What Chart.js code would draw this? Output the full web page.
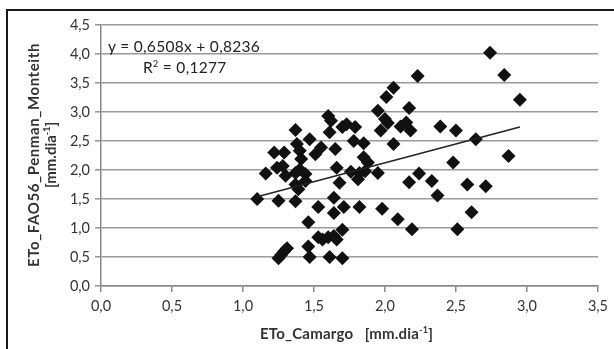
<!DOCTYPE html>
<html><head><meta charset="utf-8">
<script src="https://cdn.jsdelivr.net/npm/chart.js@4.4.0/dist/chart.umd.min.js"></script>
<style>
html,body{margin:0;padding:0;background:#fff;}
#wrap{position:relative;width:614px;height:349px;overflow:hidden;font-family:Lato,"Open Sans",sans-serif;color:#222;}
#frame{position:absolute;left:6px;top:9px;width:640px;height:400px;border:2.5px solid #1a1a1a;box-sizing:border-box;}
canvas{position:absolute;left:0;top:0;}
.t{position:absolute;white-space:nowrap;}
</style></head>
<body>
<div id="wrap">
<div id="frame"></div>
<canvas id="c" width="614" height="349"></canvas>
<div class="t" style="left:108px;top:37px;font-size:15.5px;letter-spacing:0.3px">y = 0,6508x + 0,8236</div>
<div class="t" style="left:143px;top:58px;font-size:15.5px;letter-spacing:0.3px">R<sup style="font-size:9px">2</sup> = 0,1277</div>
<div class="t" style="left:260px;top:324px;font-size:15px;font-weight:bold;color:#333;letter-spacing:0.2px">ETo_Camargo&nbsp;&nbsp;&nbsp;[mm.dia<sup style="font-size:9px">-1</sup>]</div>
<div class="t" style="left:33px;top:155px;transform:translate(-50%,-50%) rotate(-90deg);font-size:15px;font-weight:bold;color:#333;letter-spacing:0.6px">ETo_FAO56_Penman_Monteith</div>
<div class="t" style="left:50px;top:155px;transform:translate(-50%,-50%) rotate(-90deg);font-size:15px;font-weight:bold;color:#333">[mm.dia<sup style="font-size:9px">-1</sup>]</div>
</div>
<script>
const xVals = [1.10,1.16,1.22,1.24,1.25,1.25,1.27,1.29,1.31,1.29,1.30,1.28,1.37,1.38,1.40,1.41,1.37,1.40,1.44,1.37,1.39,1.37,1.44,1.47,1.51,1.55,1.46,1.46,1.47,1.53,1.53,1.56,1.60,1.61,1.60,1.62,1.61,1.65,1.66,1.68,1.64,1.64,1.64,1.66,1.70,1.71,1.70,1.70,1.73,1.79,1.78,1.85,1.76,1.81,1.82,1.85,1.88,1.86,1.82,1.95,1.97,2.00,2.02,2.01,2.06,1.95,1.98,2.06,2.09,2.11,2.15,2.17,2.18,2.17,2.19,2.23,2.24,2.33,2.37,2.39,2.48,2.50,2.51,2.58,2.61,2.64,2.71,2.74,2.84,2.87,2.95];
const yVals = [1.50,1.94,2.30,2.04,1.47,0.48,0.54,0.60,0.65,2.30,1.90,2.07,2.69,2.45,2.33,2.19,1.95,2.01,1.93,1.75,1.67,1.46,1.81,2.53,2.27,2.39,1.10,0.68,0.50,1.36,0.84,0.80,0.84,0.50,2.93,2.85,2.65,2.36,2.04,1.78,1.52,1.26,0.86,0.80,0.97,1.36,0.48,2.74,2.79,2.74,2.50,2.46,1.97,1.84,1.95,2.22,2.13,1.98,1.36,3.02,2.68,2.88,2.81,3.26,3.42,1.95,1.33,2.45,1.15,2.75,2.82,3.07,2.68,1.79,0.98,3.62,1.94,1.81,1.56,2.75,2.13,2.68,0.98,1.75,1.27,2.53,1.72,4.02,3.64,2.24,3.21];
const trendX = [1.10, 2.95];
const trendY = [1.54, 2.74];
const xTicks = ['0,0','0,5','1,0','1,5','2,0','2,5','3,0','3,5'];
const yTicks = ['0,0','0,5','1,0','1,5','2,0','2,5','3,0','3,5','4,0','4,5'];

const pts = xVals.map((x,i)=>({x:x,y:yVals[i]}));
const trend = trendX.map((x,i)=>({x:x,y:trendY[i]}));

new Chart(document.getElementById('c'),{
  type:'scatter',
  data:{datasets:[
    {data:trend,type:'line',showLine:true,borderColor:'#222',borderWidth:1.5,pointRadius:0,fill:false,order:1},
    {data:pts,pointStyle:'rectRot',pointRadius:7,backgroundColor:'#111',borderColor:'#111',borderWidth:0,order:2}
  ]},
  options:{
    responsive:false,animation:false,devicePixelRatio:1,
    layout:{padding:{left:0,right:15,top:25,bottom:0}},
    plugins:{legend:{display:false},tooltip:{enabled:false}},
    scales:{
      x:{type:'linear',min:0,max:3.5,
        afterFit:s=>{s.height=63;},
        afterBuildTicks:s=>{s.ticks=xTicks.map((t,i)=>({value:i*0.5}));},
        ticks:{color:'#333',font:{family:'Lato',size:14.5},padding:6,callback:(v,i)=>xTicks[i],maxRotation:0},
        grid:{drawOnChartArea:false,drawTicks:true,tickLength:6,color:'#888',lineWidth:1.5},
        border:{color:'#888',width:1.5}
      },
      y:{type:'linear',min:0,max:4.5,
        afterFit:s=>{s.width=101;},
        afterBuildTicks:s=>{s.ticks=yTicks.map((t,i)=>({value:i*0.5}));},
        ticks:{color:'#333',font:{family:'Lato',size:14.5},padding:5,callback:(v,i)=>yTicks[i]},
        grid:{color:'#9a9a9a',lineWidth:1.6,tickLength:6,drawTicks:true},
        border:{color:'#888',width:1.5}
      }
    }
  }
});
</script>
</body></html>
